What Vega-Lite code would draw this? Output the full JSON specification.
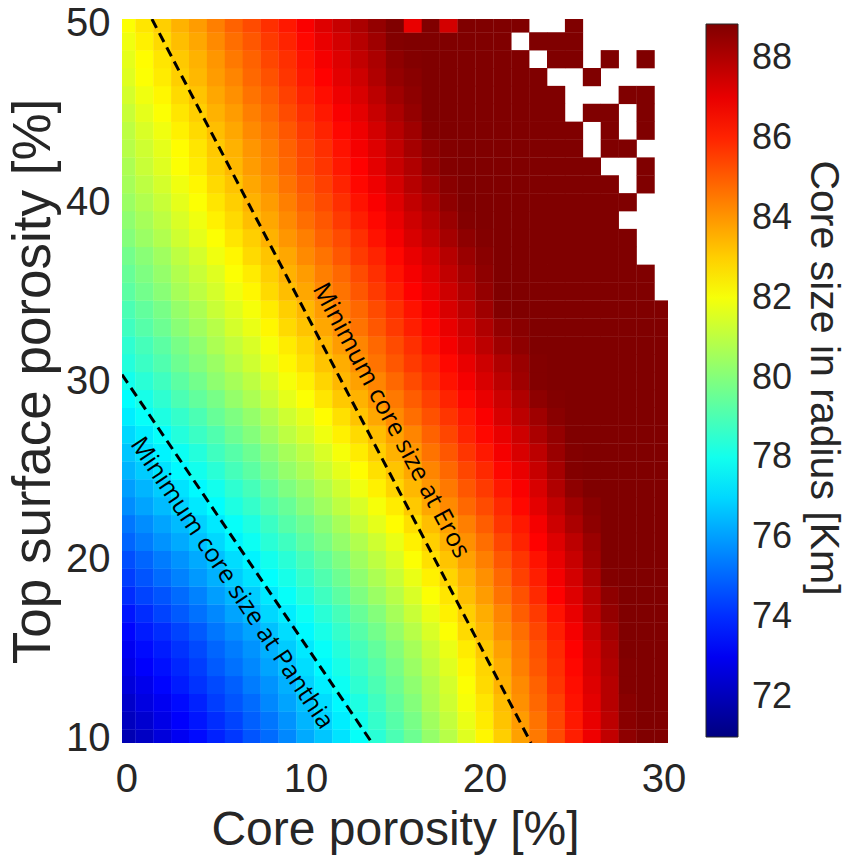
{
"$schema": "https://vega.github.io/schema/vega-lite/v6.json",
"autosize": {"type": "none"},
"width": 546,
"height": 724,
"padding": {"left": 122, "top": 19, "right": 180, "bottom": 116},
"background": "white",
"config": {"view": {"stroke": null}},
"datasets": {
"grid": [
{"x":0,"y":10,"v":71.9},{"x":1,"y":10,"v":72.2},{"x":2,"y":10,"v":72.6},{"x":3,"y":10,"v":73},{"x":4,"y":10,"v":73.4},{"x":5,"y":10,"v":73.8},{"x":6,"y":10,"v":74.2},{"x":7,"y":10,"v":74.7},{"x":8,"y":10,"v":75.1},{"x":9,"y":10,"v":75.6},{"x":10,"y":10,"v":76.2},{"x":11,"y":10,"v":76.7},{"x":12,"y":10,"v":77.2},{"x":13,"y":10,"v":77.8},{"x":14,"y":10,"v":78.4},{"x":15,"y":10,"v":79},{"x":16,"y":10,"v":79.6},{"x":17,"y":10,"v":80.3},{"x":18,"y":10,"v":80.9},{"x":19,"y":10,"v":81.6},{"x":20,"y":10,"v":82.3},{"x":21,"y":10,"v":83},{"x":22,"y":10,"v":83.8},{"x":23,"y":10,"v":84.5},{"x":24,"y":10,"v":85.3},{"x":25,"y":10,"v":86.1},{"x":26,"y":10,"v":86.9},{"x":27,"y":10,"v":87.7},{"x":28,"y":10,"v":88.6},{"x":29,"y":10,"v":89},{"x":30,"y":10,"v":89},
{"x":0,"y":11,"v":72.1},{"x":1,"y":11,"v":72.4},{"x":2,"y":11,"v":72.8},{"x":3,"y":11,"v":73.2},{"x":4,"y":11,"v":73.6},{"x":5,"y":11,"v":74},{"x":6,"y":11,"v":74.4},{"x":7,"y":11,"v":74.9},{"x":8,"y":11,"v":75.3},{"x":9,"y":11,"v":75.8},{"x":10,"y":11,"v":76.4},{"x":11,"y":11,"v":76.9},{"x":12,"y":11,"v":77.4},{"x":13,"y":11,"v":78},{"x":14,"y":11,"v":78.6},{"x":15,"y":11,"v":79.2},{"x":16,"y":11,"v":79.8},{"x":17,"y":11,"v":80.5},{"x":18,"y":11,"v":81.1},{"x":19,"y":11,"v":81.8},{"x":20,"y":11,"v":82.5},{"x":21,"y":11,"v":83.2},{"x":22,"y":11,"v":83.9},{"x":23,"y":11,"v":84.6},{"x":24,"y":11,"v":85.4},{"x":25,"y":11,"v":86.2},{"x":26,"y":11,"v":87},{"x":27,"y":11,"v":87.8},{"x":28,"y":11,"v":88.7},{"x":29,"y":11,"v":89},{"x":30,"y":11,"v":89},
{"x":0,"y":12,"v":72.3},{"x":1,"y":12,"v":72.7},{"x":2,"y":12,"v":73},{"x":3,"y":12,"v":73.4},{"x":4,"y":12,"v":73.8},{"x":5,"y":12,"v":74.3},{"x":6,"y":12,"v":74.7},{"x":7,"y":12,"v":75.1},{"x":8,"y":12,"v":75.6},{"x":9,"y":12,"v":76.1},{"x":10,"y":12,"v":76.6},{"x":11,"y":12,"v":77.1},{"x":12,"y":12,"v":77.6},{"x":13,"y":12,"v":78.2},{"x":14,"y":12,"v":78.8},{"x":15,"y":12,"v":79.4},{"x":16,"y":12,"v":80},{"x":17,"y":12,"v":80.7},{"x":18,"y":12,"v":81.3},{"x":19,"y":12,"v":82},{"x":20,"y":12,"v":82.6},{"x":21,"y":12,"v":83.3},{"x":22,"y":12,"v":84.1},{"x":23,"y":12,"v":84.8},{"x":24,"y":12,"v":85.5},{"x":25,"y":12,"v":86.3},{"x":26,"y":12,"v":87.1},{"x":27,"y":12,"v":87.9},{"x":28,"y":12,"v":88.7},{"x":29,"y":12,"v":89},{"x":30,"y":12,"v":89},
{"x":0,"y":13,"v":72.6},{"x":1,"y":13,"v":72.9},{"x":2,"y":13,"v":73.3},{"x":3,"y":13,"v":73.7},{"x":4,"y":13,"v":74.1},{"x":5,"y":13,"v":74.5},{"x":6,"y":13,"v":74.9},{"x":7,"y":13,"v":75.4},{"x":8,"y":13,"v":75.8},{"x":9,"y":13,"v":76.3},{"x":10,"y":13,"v":76.9},{"x":11,"y":13,"v":77.4},{"x":12,"y":13,"v":77.9},{"x":13,"y":13,"v":78.5},{"x":14,"y":13,"v":79},{"x":15,"y":13,"v":79.6},{"x":16,"y":13,"v":80.2},{"x":17,"y":13,"v":80.8},{"x":18,"y":13,"v":81.4},{"x":19,"y":13,"v":82.1},{"x":20,"y":13,"v":82.8},{"x":21,"y":13,"v":83.5},{"x":22,"y":13,"v":84.2},{"x":23,"y":13,"v":84.9},{"x":24,"y":13,"v":85.7},{"x":25,"y":13,"v":86.4},{"x":26,"y":13,"v":87.2},{"x":27,"y":13,"v":87.9},{"x":28,"y":13,"v":88.8},{"x":29,"y":13,"v":89},{"x":30,"y":13,"v":89},
{"x":0,"y":14,"v":72.8},{"x":1,"y":14,"v":73.2},{"x":2,"y":14,"v":73.5},{"x":3,"y":14,"v":73.9},{"x":4,"y":14,"v":74.3},{"x":5,"y":14,"v":74.8},{"x":6,"y":14,"v":75.2},{"x":7,"y":14,"v":75.6},{"x":8,"y":14,"v":76.1},{"x":9,"y":14,"v":76.6},{"x":10,"y":14,"v":77.1},{"x":11,"y":14,"v":77.6},{"x":12,"y":14,"v":78.1},{"x":13,"y":14,"v":78.7},{"x":14,"y":14,"v":79.2},{"x":15,"y":14,"v":79.8},{"x":16,"y":14,"v":80.4},{"x":17,"y":14,"v":81},{"x":18,"y":14,"v":81.6},{"x":19,"y":14,"v":82.3},{"x":20,"y":14,"v":82.9},{"x":21,"y":14,"v":83.6},{"x":22,"y":14,"v":84.4},{"x":23,"y":14,"v":85.1},{"x":24,"y":14,"v":85.8},{"x":25,"y":14,"v":86.5},{"x":26,"y":14,"v":87.3},{"x":27,"y":14,"v":88},{"x":28,"y":14,"v":88.8},{"x":29,"y":14,"v":89},{"x":30,"y":14,"v":89},
{"x":0,"y":15,"v":73},{"x":1,"y":15,"v":73.4},{"x":2,"y":15,"v":73.7},{"x":3,"y":15,"v":74.1},{"x":4,"y":15,"v":74.5},{"x":5,"y":15,"v":75},{"x":6,"y":15,"v":75.4},{"x":7,"y":15,"v":75.8},{"x":8,"y":15,"v":76.3},{"x":9,"y":15,"v":76.8},{"x":10,"y":15,"v":77.3},{"x":11,"y":15,"v":77.8},{"x":12,"y":15,"v":78.3},{"x":13,"y":15,"v":78.9},{"x":14,"y":15,"v":79.4},{"x":15,"y":15,"v":80},{"x":16,"y":15,"v":80.6},{"x":17,"y":15,"v":81.2},{"x":18,"y":15,"v":81.8},{"x":19,"y":15,"v":82.5},{"x":20,"y":15,"v":83.1},{"x":21,"y":15,"v":83.8},{"x":22,"y":15,"v":84.5},{"x":23,"y":15,"v":85.2},{"x":24,"y":15,"v":85.9},{"x":25,"y":15,"v":86.6},{"x":26,"y":15,"v":87.4},{"x":27,"y":15,"v":88.1},{"x":28,"y":15,"v":88.9},{"x":29,"y":15,"v":89},{"x":30,"y":15,"v":89},
{"x":0,"y":16,"v":73.3},{"x":1,"y":16,"v":73.7},{"x":2,"y":16,"v":74},{"x":3,"y":16,"v":74.4},{"x":4,"y":16,"v":74.8},{"x":5,"y":16,"v":75.3},{"x":6,"y":16,"v":75.7},{"x":7,"y":16,"v":76.1},{"x":8,"y":16,"v":76.6},{"x":9,"y":16,"v":77.1},{"x":10,"y":16,"v":77.6},{"x":11,"y":16,"v":78.1},{"x":12,"y":16,"v":78.6},{"x":13,"y":16,"v":79.2},{"x":14,"y":16,"v":79.7},{"x":15,"y":16,"v":80.3},{"x":16,"y":16,"v":80.9},{"x":17,"y":16,"v":81.5},{"x":18,"y":16,"v":82.1},{"x":19,"y":16,"v":82.8},{"x":20,"y":16,"v":83.4},{"x":21,"y":16,"v":84.1},{"x":22,"y":16,"v":84.7},{"x":23,"y":16,"v":85.4},{"x":24,"y":16,"v":86.1},{"x":25,"y":16,"v":86.8},{"x":26,"y":16,"v":87.6},{"x":27,"y":16,"v":88.3},{"x":28,"y":16,"v":88.9},{"x":29,"y":16,"v":89},{"x":30,"y":16,"v":89},
{"x":0,"y":17,"v":73.6},{"x":1,"y":17,"v":74},{"x":2,"y":17,"v":74.4},{"x":3,"y":17,"v":74.8},{"x":4,"y":17,"v":75.2},{"x":5,"y":17,"v":75.6},{"x":6,"y":17,"v":76.1},{"x":7,"y":17,"v":76.5},{"x":8,"y":17,"v":77},{"x":9,"y":17,"v":77.4},{"x":10,"y":17,"v":77.9},{"x":11,"y":17,"v":78.4},{"x":12,"y":17,"v":78.9},{"x":13,"y":17,"v":79.5},{"x":14,"y":17,"v":80},{"x":15,"y":17,"v":80.6},{"x":16,"y":17,"v":81.2},{"x":17,"y":17,"v":81.8},{"x":18,"y":17,"v":82.4},{"x":19,"y":17,"v":83},{"x":20,"y":17,"v":83.6},{"x":21,"y":17,"v":84.3},{"x":22,"y":17,"v":85},{"x":23,"y":17,"v":85.6},{"x":24,"y":17,"v":86.3},{"x":25,"y":17,"v":87},{"x":26,"y":17,"v":87.8},{"x":27,"y":17,"v":88.5},{"x":28,"y":17,"v":88.9},{"x":29,"y":17,"v":89},{"x":30,"y":17,"v":89},
{"x":0,"y":18,"v":74},{"x":1,"y":18,"v":74.4},{"x":2,"y":18,"v":74.7},{"x":3,"y":18,"v":75.1},{"x":4,"y":18,"v":75.5},{"x":5,"y":18,"v":76},{"x":6,"y":18,"v":76.4},{"x":7,"y":18,"v":76.8},{"x":8,"y":18,"v":77.3},{"x":9,"y":18,"v":77.8},{"x":10,"y":18,"v":78.3},{"x":11,"y":18,"v":78.8},{"x":12,"y":18,"v":79.3},{"x":13,"y":18,"v":79.9},{"x":14,"y":18,"v":80.4},{"x":15,"y":18,"v":80.9},{"x":16,"y":18,"v":81.5},{"x":17,"y":18,"v":82.1},{"x":18,"y":18,"v":82.6},{"x":19,"y":18,"v":83.3},{"x":20,"y":18,"v":83.9},{"x":21,"y":18,"v":84.6},{"x":22,"y":18,"v":85.2},{"x":23,"y":18,"v":85.9},{"x":24,"y":18,"v":86.6},{"x":25,"y":18,"v":87.2},{"x":26,"y":18,"v":87.9},{"x":27,"y":18,"v":88.6},{"x":28,"y":18,"v":89},{"x":29,"y":18,"v":89},{"x":30,"y":18,"v":89},
{"x":0,"y":19,"v":74.3},{"x":1,"y":19,"v":74.7},{"x":2,"y":19,"v":75.1},{"x":3,"y":19,"v":75.5},{"x":4,"y":19,"v":75.9},{"x":5,"y":19,"v":76.3},{"x":6,"y":19,"v":76.8},{"x":7,"y":19,"v":77.2},{"x":8,"y":19,"v":77.7},{"x":9,"y":19,"v":78.1},{"x":10,"y":19,"v":78.6},{"x":11,"y":19,"v":79.1},{"x":12,"y":19,"v":79.6},{"x":13,"y":19,"v":80.2},{"x":14,"y":19,"v":80.7},{"x":15,"y":19,"v":81.2},{"x":16,"y":19,"v":81.8},{"x":17,"y":19,"v":82.4},{"x":18,"y":19,"v":82.9},{"x":19,"y":19,"v":83.5},{"x":20,"y":19,"v":84.1},{"x":21,"y":19,"v":84.8},{"x":22,"y":19,"v":85.5},{"x":23,"y":19,"v":86.1},{"x":24,"y":19,"v":86.8},{"x":25,"y":19,"v":87.4},{"x":26,"y":19,"v":88.1},{"x":27,"y":19,"v":88.8},{"x":28,"y":19,"v":89},{"x":29,"y":19,"v":89},{"x":30,"y":19,"v":89},
{"x":0,"y":20,"v":74.6},{"x":1,"y":20,"v":75},{"x":2,"y":20,"v":75.4},{"x":3,"y":20,"v":75.8},{"x":4,"y":20,"v":76.2},{"x":5,"y":20,"v":76.6},{"x":6,"y":20,"v":77.1},{"x":7,"y":20,"v":77.5},{"x":8,"y":20,"v":78},{"x":9,"y":20,"v":78.4},{"x":10,"y":20,"v":78.9},{"x":11,"y":20,"v":79.4},{"x":12,"y":20,"v":79.9},{"x":13,"y":20,"v":80.5},{"x":14,"y":20,"v":81},{"x":15,"y":20,"v":81.5},{"x":16,"y":20,"v":82.1},{"x":17,"y":20,"v":82.7},{"x":18,"y":20,"v":83.2},{"x":19,"y":20,"v":83.8},{"x":20,"y":20,"v":84.4},{"x":21,"y":20,"v":85.1},{"x":22,"y":20,"v":85.7},{"x":23,"y":20,"v":86.3},{"x":24,"y":20,"v":87},{"x":25,"y":20,"v":87.6},{"x":26,"y":20,"v":88.3},{"x":27,"y":20,"v":89},{"x":28,"y":20,"v":89},{"x":29,"y":20,"v":89},{"x":30,"y":20,"v":89},
{"x":0,"y":21,"v":75},{"x":1,"y":21,"v":75.4},{"x":2,"y":21,"v":75.8},{"x":3,"y":21,"v":76.2},{"x":4,"y":21,"v":76.6},{"x":5,"y":21,"v":77},{"x":6,"y":21,"v":77.5},{"x":7,"y":21,"v":77.9},{"x":8,"y":21,"v":78.4},{"x":9,"y":21,"v":78.8},{"x":10,"y":21,"v":79.3},{"x":11,"y":21,"v":79.8},{"x":12,"y":21,"v":80.3},{"x":13,"y":21,"v":80.8},{"x":14,"y":21,"v":81.3},{"x":15,"y":21,"v":81.8},{"x":16,"y":21,"v":82.4},{"x":17,"y":21,"v":83},{"x":18,"y":21,"v":83.5},{"x":19,"y":21,"v":84.1},{"x":20,"y":21,"v":84.7},{"x":21,"y":21,"v":85.4},{"x":22,"y":21,"v":86},{"x":23,"y":21,"v":86.6},{"x":24,"y":21,"v":87.2},{"x":25,"y":21,"v":87.8},{"x":26,"y":21,"v":88.4},{"x":27,"y":21,"v":89},{"x":28,"y":21,"v":89},{"x":29,"y":21,"v":89},{"x":30,"y":21,"v":89},
{"x":0,"y":22,"v":75.3},{"x":1,"y":22,"v":75.7},{"x":2,"y":22,"v":76.1},{"x":3,"y":22,"v":76.5},{"x":4,"y":22,"v":76.9},{"x":5,"y":22,"v":77.3},{"x":6,"y":22,"v":77.8},{"x":7,"y":22,"v":78.2},{"x":8,"y":22,"v":78.7},{"x":9,"y":22,"v":79.2},{"x":10,"y":22,"v":79.6},{"x":11,"y":22,"v":80.1},{"x":12,"y":22,"v":80.6},{"x":13,"y":22,"v":81.2},{"x":14,"y":22,"v":81.7},{"x":15,"y":22,"v":82.2},{"x":16,"y":22,"v":82.7},{"x":17,"y":22,"v":83.3},{"x":18,"y":22,"v":83.8},{"x":19,"y":22,"v":84.4},{"x":20,"y":22,"v":85},{"x":21,"y":22,"v":85.7},{"x":22,"y":22,"v":86.2},{"x":23,"y":22,"v":86.8},{"x":24,"y":22,"v":87.5},{"x":25,"y":22,"v":88.1},{"x":26,"y":22,"v":88.6},{"x":27,"y":22,"v":89},{"x":28,"y":22,"v":89},{"x":29,"y":22,"v":89},{"x":30,"y":22,"v":89},
{"x":0,"y":23,"v":75.7},{"x":1,"y":23,"v":76.1},{"x":2,"y":23,"v":76.5},{"x":3,"y":23,"v":76.9},{"x":4,"y":23,"v":77.3},{"x":5,"y":23,"v":77.7},{"x":6,"y":23,"v":78.2},{"x":7,"y":23,"v":78.6},{"x":8,"y":23,"v":79.1},{"x":9,"y":23,"v":79.5},{"x":10,"y":23,"v":80},{"x":11,"y":23,"v":80.5},{"x":12,"y":23,"v":81},{"x":13,"y":23,"v":81.5},{"x":14,"y":23,"v":82},{"x":15,"y":23,"v":82.5},{"x":16,"y":23,"v":83.1},{"x":17,"y":23,"v":83.7},{"x":18,"y":23,"v":84.2},{"x":19,"y":23,"v":84.8},{"x":20,"y":23,"v":85.3},{"x":21,"y":23,"v":85.9},{"x":22,"y":23,"v":86.5},{"x":23,"y":23,"v":87.1},{"x":24,"y":23,"v":87.7},{"x":25,"y":23,"v":88.3},{"x":26,"y":23,"v":88.7},{"x":27,"y":23,"v":89},{"x":28,"y":23,"v":89},{"x":29,"y":23,"v":89},{"x":30,"y":23,"v":89},
{"x":0,"y":24,"v":76},{"x":1,"y":24,"v":76.4},{"x":2,"y":24,"v":76.8},{"x":3,"y":24,"v":77.2},{"x":4,"y":24,"v":77.6},{"x":5,"y":24,"v":78},{"x":6,"y":24,"v":78.5},{"x":7,"y":24,"v":78.9},{"x":8,"y":24,"v":79.4},{"x":9,"y":24,"v":79.9},{"x":10,"y":24,"v":80.3},{"x":11,"y":24,"v":80.8},{"x":12,"y":24,"v":81.3},{"x":13,"y":24,"v":81.9},{"x":14,"y":24,"v":82.4},{"x":15,"y":24,"v":82.9},{"x":16,"y":24,"v":83.4},{"x":17,"y":24,"v":84},{"x":18,"y":24,"v":84.5},{"x":19,"y":24,"v":85.1},{"x":20,"y":24,"v":85.6},{"x":21,"y":24,"v":86.2},{"x":22,"y":24,"v":86.7},{"x":23,"y":24,"v":87.3},{"x":24,"y":24,"v":88},{"x":25,"y":24,"v":88.6},{"x":26,"y":24,"v":88.9},{"x":27,"y":24,"v":89},{"x":28,"y":24,"v":89},{"x":29,"y":24,"v":89},{"x":30,"y":24,"v":89},
{"x":0,"y":25,"v":76.4},{"x":1,"y":25,"v":76.8},{"x":2,"y":25,"v":77.2},{"x":3,"y":25,"v":77.6},{"x":4,"y":25,"v":78},{"x":5,"y":25,"v":78.4},{"x":6,"y":25,"v":78.9},{"x":7,"y":25,"v":79.3},{"x":8,"y":25,"v":79.8},{"x":9,"y":25,"v":80.3},{"x":10,"y":25,"v":80.7},{"x":11,"y":25,"v":81.2},{"x":12,"y":25,"v":81.7},{"x":13,"y":25,"v":82.2},{"x":14,"y":25,"v":82.7},{"x":15,"y":25,"v":83.2},{"x":16,"y":25,"v":83.7},{"x":17,"y":25,"v":84.3},{"x":18,"y":25,"v":84.8},{"x":19,"y":25,"v":85.4},{"x":20,"y":25,"v":85.9},{"x":21,"y":25,"v":86.5},{"x":22,"y":25,"v":87},{"x":23,"y":25,"v":87.6},{"x":24,"y":25,"v":88.2},{"x":25,"y":25,"v":88.8},{"x":26,"y":25,"v":89},{"x":27,"y":25,"v":89},{"x":28,"y":25,"v":89},{"x":29,"y":25,"v":89},{"x":30,"y":25,"v":89},
{"x":0,"y":26,"v":76.7},{"x":1,"y":26,"v":77.1},{"x":2,"y":26,"v":77.5},{"x":3,"y":26,"v":77.9},{"x":4,"y":26,"v":78.3},{"x":5,"y":26,"v":78.8},{"x":6,"y":26,"v":79.2},{"x":7,"y":26,"v":79.6},{"x":8,"y":26,"v":80.1},{"x":9,"y":26,"v":80.6},{"x":10,"y":26,"v":81},{"x":11,"y":26,"v":81.5},{"x":12,"y":26,"v":82},{"x":13,"y":26,"v":82.5},{"x":14,"y":26,"v":83},{"x":15,"y":26,"v":83.5},{"x":16,"y":26,"v":84},{"x":17,"y":26,"v":84.6},{"x":18,"y":26,"v":85.1},{"x":19,"y":26,"v":85.7},{"x":20,"y":26,"v":86.2},{"x":21,"y":26,"v":86.8},{"x":22,"y":26,"v":87.3},{"x":23,"y":26,"v":87.8},{"x":24,"y":26,"v":88.4},{"x":25,"y":26,"v":88.8},{"x":26,"y":26,"v":89},{"x":27,"y":26,"v":89},{"x":28,"y":26,"v":89},{"x":29,"y":26,"v":89},{"x":30,"y":26,"v":89},
{"x":0,"y":27,"v":77},{"x":1,"y":27,"v":77.4},{"x":2,"y":27,"v":77.8},{"x":3,"y":27,"v":78.3},{"x":4,"y":27,"v":78.7},{"x":5,"y":27,"v":79.1},{"x":6,"y":27,"v":79.6},{"x":7,"y":27,"v":80},{"x":8,"y":27,"v":80.5},{"x":9,"y":27,"v":81},{"x":10,"y":27,"v":81.4},{"x":11,"y":27,"v":81.9},{"x":12,"y":27,"v":82.4},{"x":13,"y":27,"v":82.8},{"x":14,"y":27,"v":83.3},{"x":15,"y":27,"v":83.8},{"x":16,"y":27,"v":84.3},{"x":17,"y":27,"v":84.9},{"x":18,"y":27,"v":85.4},{"x":19,"y":27,"v":86},{"x":20,"y":27,"v":86.5},{"x":21,"y":27,"v":87},{"x":22,"y":27,"v":87.5},{"x":23,"y":27,"v":88.1},{"x":24,"y":27,"v":88.5},{"x":25,"y":27,"v":88.9},{"x":26,"y":27,"v":89},{"x":27,"y":27,"v":89},{"x":28,"y":27,"v":89},{"x":29,"y":27,"v":89},{"x":30,"y":27,"v":89},
{"x":0,"y":28,"v":77.4},{"x":1,"y":28,"v":77.8},{"x":2,"y":28,"v":78.2},{"x":3,"y":28,"v":78.6},{"x":4,"y":28,"v":79},{"x":5,"y":28,"v":79.5},{"x":6,"y":28,"v":79.9},{"x":7,"y":28,"v":80.3},{"x":8,"y":28,"v":80.8},{"x":9,"y":28,"v":81.3},{"x":10,"y":28,"v":81.7},{"x":11,"y":28,"v":82.2},{"x":12,"y":28,"v":82.7},{"x":13,"y":28,"v":83.2},{"x":14,"y":28,"v":83.7},{"x":15,"y":28,"v":84.2},{"x":16,"y":28,"v":84.7},{"x":17,"y":28,"v":85.2},{"x":18,"y":28,"v":85.7},{"x":19,"y":28,"v":86.2},{"x":20,"y":28,"v":86.7},{"x":21,"y":28,"v":87.3},{"x":22,"y":28,"v":87.8},{"x":23,"y":28,"v":88.3},{"x":24,"y":28,"v":88.7},{"x":25,"y":28,"v":89},{"x":26,"y":28,"v":89},{"x":27,"y":28,"v":89},{"x":28,"y":28,"v":89},{"x":29,"y":28,"v":89},{"x":30,"y":28,"v":89},
{"x":0,"y":29,"v":77.7},{"x":1,"y":29,"v":78.1},{"x":2,"y":29,"v":78.5},{"x":3,"y":29,"v":79},{"x":4,"y":29,"v":79.4},{"x":5,"y":29,"v":79.8},{"x":6,"y":29,"v":80.3},{"x":7,"y":29,"v":80.7},{"x":8,"y":29,"v":81.2},{"x":9,"y":29,"v":81.7},{"x":10,"y":29,"v":82.1},{"x":11,"y":29,"v":82.6},{"x":12,"y":29,"v":83.1},{"x":13,"y":29,"v":83.5},{"x":14,"y":29,"v":84},{"x":15,"y":29,"v":84.5},{"x":16,"y":29,"v":85},{"x":17,"y":29,"v":85.5},{"x":18,"y":29,"v":86},{"x":19,"y":29,"v":86.5},{"x":20,"y":29,"v":87},{"x":21,"y":29,"v":87.5},{"x":22,"y":29,"v":88},{"x":23,"y":29,"v":88.6},{"x":24,"y":29,"v":88.8},{"x":25,"y":29,"v":89},{"x":26,"y":29,"v":89},{"x":27,"y":29,"v":89},{"x":28,"y":29,"v":89},{"x":29,"y":29,"v":89},{"x":30,"y":29,"v":89},
{"x":0,"y":30,"v":78},{"x":1,"y":30,"v":78.4},{"x":2,"y":30,"v":78.8},{"x":3,"y":30,"v":79.3},{"x":4,"y":30,"v":79.7},{"x":5,"y":30,"v":80.2},{"x":6,"y":30,"v":80.6},{"x":7,"y":30,"v":81},{"x":8,"y":30,"v":81.5},{"x":9,"y":30,"v":82},{"x":10,"y":30,"v":82.4},{"x":11,"y":30,"v":82.9},{"x":12,"y":30,"v":83.4},{"x":13,"y":30,"v":83.8},{"x":14,"y":30,"v":84.3},{"x":15,"y":30,"v":84.8},{"x":16,"y":30,"v":85.3},{"x":17,"y":30,"v":85.8},{"x":18,"y":30,"v":86.3},{"x":19,"y":30,"v":86.8},{"x":20,"y":30,"v":87.3},{"x":21,"y":30,"v":87.8},{"x":22,"y":30,"v":88.3},{"x":23,"y":30,"v":88.8},{"x":24,"y":30,"v":89},{"x":25,"y":30,"v":89},{"x":26,"y":30,"v":89},{"x":27,"y":30,"v":89},{"x":28,"y":30,"v":89},{"x":29,"y":30,"v":89},{"x":30,"y":30,"v":89},
{"x":0,"y":31,"v":78.3},{"x":1,"y":31,"v":78.7},{"x":2,"y":31,"v":79.1},{"x":3,"y":31,"v":79.6},{"x":4,"y":31,"v":80},{"x":5,"y":31,"v":80.4},{"x":6,"y":31,"v":80.9},{"x":7,"y":31,"v":81.3},{"x":8,"y":31,"v":81.8},{"x":9,"y":31,"v":82.3},{"x":10,"y":31,"v":82.7},{"x":11,"y":31,"v":83.2},{"x":12,"y":31,"v":83.6},{"x":13,"y":31,"v":84.1},{"x":14,"y":31,"v":84.6},{"x":15,"y":31,"v":85.1},{"x":16,"y":31,"v":85.6},{"x":17,"y":31,"v":86},{"x":18,"y":31,"v":86.5},{"x":19,"y":31,"v":87},{"x":20,"y":31,"v":87.5},{"x":21,"y":31,"v":88},{"x":22,"y":31,"v":88.4},{"x":23,"y":31,"v":88.8},{"x":24,"y":31,"v":89},{"x":25,"y":31,"v":89},{"x":26,"y":31,"v":89},{"x":27,"y":31,"v":89},{"x":28,"y":31,"v":89},{"x":29,"y":31,"v":89},{"x":30,"y":31,"v":89},
{"x":0,"y":32,"v":78.5},{"x":1,"y":32,"v":78.9},{"x":2,"y":32,"v":79.3},{"x":3,"y":32,"v":79.8},{"x":4,"y":32,"v":80.2},{"x":5,"y":32,"v":80.7},{"x":6,"y":32,"v":81.1},{"x":7,"y":32,"v":81.5},{"x":8,"y":32,"v":82},{"x":9,"y":32,"v":82.5},{"x":10,"y":32,"v":82.9},{"x":11,"y":32,"v":83.4},{"x":12,"y":32,"v":83.9},{"x":13,"y":32,"v":84.3},{"x":14,"y":32,"v":84.8},{"x":15,"y":32,"v":85.3},{"x":16,"y":32,"v":85.8},{"x":17,"y":32,"v":86.3},{"x":18,"y":32,"v":86.8},{"x":19,"y":32,"v":87.3},{"x":20,"y":32,"v":87.8},{"x":21,"y":32,"v":88.3},{"x":22,"y":32,"v":88.6},{"x":23,"y":32,"v":88.9},{"x":24,"y":32,"v":89},{"x":25,"y":32,"v":89},{"x":26,"y":32,"v":89},{"x":27,"y":32,"v":89},{"x":28,"y":32,"v":89},{"x":29,"y":32,"v":89},{"x":30,"y":32,"v":89},
{"x":0,"y":33,"v":78.8},{"x":1,"y":33,"v":79.2},{"x":2,"y":33,"v":79.6},{"x":3,"y":33,"v":80.1},{"x":4,"y":33,"v":80.5},{"x":5,"y":33,"v":80.9},{"x":6,"y":33,"v":81.4},{"x":7,"y":33,"v":81.8},{"x":8,"y":33,"v":82.3},{"x":9,"y":33,"v":82.8},{"x":10,"y":33,"v":83.2},{"x":11,"y":33,"v":83.7},{"x":12,"y":33,"v":84.1},{"x":13,"y":33,"v":84.6},{"x":14,"y":33,"v":85.1},{"x":15,"y":33,"v":85.6},{"x":16,"y":33,"v":86.1},{"x":17,"y":33,"v":86.5},{"x":18,"y":33,"v":87},{"x":19,"y":33,"v":87.5},{"x":20,"y":33,"v":88},{"x":21,"y":33,"v":88.5},{"x":22,"y":33,"v":88.7},{"x":23,"y":33,"v":89},{"x":24,"y":33,"v":89},{"x":25,"y":33,"v":89},{"x":26,"y":33,"v":89},{"x":27,"y":33,"v":89},{"x":28,"y":33,"v":89},{"x":29,"y":33,"v":89},{"x":30,"y":33,"v":89},
{"x":0,"y":34,"v":79},{"x":1,"y":34,"v":79.4},{"x":2,"y":34,"v":79.8},{"x":3,"y":34,"v":80.3},{"x":4,"y":34,"v":80.7},{"x":5,"y":34,"v":81.2},{"x":6,"y":34,"v":81.6},{"x":7,"y":34,"v":82},{"x":8,"y":34,"v":82.5},{"x":9,"y":34,"v":83},{"x":10,"y":34,"v":83.4},{"x":11,"y":34,"v":83.9},{"x":12,"y":34,"v":84.4},{"x":13,"y":34,"v":84.8},{"x":14,"y":34,"v":85.3},{"x":15,"y":34,"v":85.8},{"x":16,"y":34,"v":86.3},{"x":17,"y":34,"v":86.8},{"x":18,"y":34,"v":87.3},{"x":19,"y":34,"v":87.8},{"x":20,"y":34,"v":88.3},{"x":21,"y":34,"v":88.8},{"x":22,"y":34,"v":88.9},{"x":23,"y":34,"v":89},{"x":24,"y":34,"v":89},{"x":25,"y":34,"v":89},{"x":26,"y":34,"v":89},{"x":27,"y":34,"v":89},{"x":28,"y":34,"v":89},{"x":29,"y":34,"v":89},{"x":30,"y":34,"v":89},
{"x":0,"y":35,"v":79.3},{"x":1,"y":35,"v":79.7},{"x":2,"y":35,"v":80.1},{"x":3,"y":35,"v":80.6},{"x":4,"y":35,"v":81},{"x":5,"y":35,"v":81.4},{"x":6,"y":35,"v":81.9},{"x":7,"y":35,"v":82.3},{"x":8,"y":35,"v":82.8},{"x":9,"y":35,"v":83.3},{"x":10,"y":35,"v":83.7},{"x":11,"y":35,"v":84.2},{"x":12,"y":35,"v":84.6},{"x":13,"y":35,"v":85.1},{"x":14,"y":35,"v":85.6},{"x":15,"y":35,"v":86.1},{"x":16,"y":35,"v":86.6},{"x":17,"y":35,"v":87},{"x":18,"y":35,"v":87.5},{"x":19,"y":35,"v":88},{"x":20,"y":35,"v":88.5},{"x":21,"y":35,"v":89},{"x":22,"y":35,"v":89},{"x":23,"y":35,"v":89},{"x":24,"y":35,"v":89},{"x":25,"y":35,"v":89},{"x":26,"y":35,"v":89},{"x":27,"y":35,"v":89},{"x":28,"y":35,"v":89},{"x":29,"y":35,"v":89},
{"x":0,"y":36,"v":79.5},{"x":1,"y":36,"v":79.9},{"x":2,"y":36,"v":80.3},{"x":3,"y":36,"v":80.8},{"x":4,"y":36,"v":81.2},{"x":5,"y":36,"v":81.6},{"x":6,"y":36,"v":82.1},{"x":7,"y":36,"v":82.5},{"x":8,"y":36,"v":83},{"x":9,"y":36,"v":83.5},{"x":10,"y":36,"v":83.9},{"x":11,"y":36,"v":84.4},{"x":12,"y":36,"v":84.8},{"x":13,"y":36,"v":85.3},{"x":14,"y":36,"v":85.8},{"x":15,"y":36,"v":86.3},{"x":16,"y":36,"v":86.8},{"x":17,"y":36,"v":87.2},{"x":18,"y":36,"v":87.7},{"x":19,"y":36,"v":88.2},{"x":20,"y":36,"v":88.6},{"x":21,"y":36,"v":89},{"x":22,"y":36,"v":89},{"x":23,"y":36,"v":89},{"x":24,"y":36,"v":89},{"x":25,"y":36,"v":89},{"x":26,"y":36,"v":89},{"x":27,"y":36,"v":89},{"x":28,"y":36,"v":89},{"x":29,"y":36,"v":89},
{"x":0,"y":37,"v":79.7},{"x":1,"y":37,"v":80.1},{"x":2,"y":37,"v":80.5},{"x":3,"y":37,"v":81},{"x":4,"y":37,"v":81.4},{"x":5,"y":37,"v":81.9},{"x":6,"y":37,"v":82.3},{"x":7,"y":37,"v":82.8},{"x":8,"y":37,"v":83.2},{"x":9,"y":37,"v":83.7},{"x":10,"y":37,"v":84.2},{"x":11,"y":37,"v":84.6},{"x":12,"y":37,"v":85.1},{"x":13,"y":37,"v":85.6},{"x":14,"y":37,"v":86},{"x":15,"y":37,"v":86.5},{"x":16,"y":37,"v":87},{"x":17,"y":37,"v":87.4},{"x":18,"y":37,"v":87.9},{"x":19,"y":37,"v":88.4},{"x":20,"y":37,"v":88.7},{"x":21,"y":37,"v":89},{"x":22,"y":37,"v":89},{"x":23,"y":37,"v":89},{"x":24,"y":37,"v":89},{"x":25,"y":37,"v":89},{"x":26,"y":37,"v":89},{"x":27,"y":37,"v":89},{"x":28,"y":37,"v":89},
{"x":0,"y":38,"v":80},{"x":1,"y":38,"v":80.4},{"x":2,"y":38,"v":80.8},{"x":3,"y":38,"v":81.3},{"x":4,"y":38,"v":81.7},{"x":5,"y":38,"v":82.1},{"x":6,"y":38,"v":82.6},{"x":7,"y":38,"v":83},{"x":8,"y":38,"v":83.5},{"x":9,"y":38,"v":84},{"x":10,"y":38,"v":84.4},{"x":11,"y":38,"v":84.9},{"x":12,"y":38,"v":85.3},{"x":13,"y":38,"v":85.8},{"x":14,"y":38,"v":86.3},{"x":15,"y":38,"v":86.8},{"x":16,"y":38,"v":87.3},{"x":17,"y":38,"v":87.7},{"x":18,"y":38,"v":88.2},{"x":19,"y":38,"v":88.6},{"x":20,"y":38,"v":88.8},{"x":21,"y":38,"v":89},{"x":22,"y":38,"v":89},{"x":23,"y":38,"v":89},{"x":24,"y":38,"v":89},{"x":25,"y":38,"v":89},{"x":26,"y":38,"v":89},{"x":27,"y":38,"v":89},{"x":28,"y":38,"v":89},
{"x":0,"y":39,"v":80.2},{"x":1,"y":39,"v":80.6},{"x":2,"y":39,"v":81},{"x":3,"y":39,"v":81.5},{"x":4,"y":39,"v":81.9},{"x":5,"y":39,"v":82.4},{"x":6,"y":39,"v":82.8},{"x":7,"y":39,"v":83.3},{"x":8,"y":39,"v":83.7},{"x":9,"y":39,"v":84.2},{"x":10,"y":39,"v":84.7},{"x":11,"y":39,"v":85.1},{"x":12,"y":39,"v":85.6},{"x":13,"y":39,"v":86.1},{"x":14,"y":39,"v":86.5},{"x":15,"y":39,"v":87},{"x":16,"y":39,"v":87.5},{"x":17,"y":39,"v":87.9},{"x":18,"y":39,"v":88.4},{"x":19,"y":39,"v":88.8},{"x":20,"y":39,"v":88.9},{"x":21,"y":39,"v":89},{"x":22,"y":39,"v":89},{"x":23,"y":39,"v":89},{"x":24,"y":39,"v":89},{"x":25,"y":39,"v":89},{"x":26,"y":39,"v":89},{"x":27,"y":39,"v":89},
{"x":0,"y":40,"v":80.4},{"x":1,"y":40,"v":80.8},{"x":2,"y":40,"v":81.2},{"x":3,"y":40,"v":81.7},{"x":4,"y":40,"v":82.1},{"x":5,"y":40,"v":82.6},{"x":6,"y":40,"v":83},{"x":7,"y":40,"v":83.5},{"x":8,"y":40,"v":83.9},{"x":9,"y":40,"v":84.4},{"x":10,"y":40,"v":84.9},{"x":11,"y":40,"v":85.3},{"x":12,"y":40,"v":85.8},{"x":13,"y":40,"v":86.3},{"x":14,"y":40,"v":86.7},{"x":15,"y":40,"v":87.2},{"x":16,"y":40,"v":87.7},{"x":17,"y":40,"v":88.1},{"x":18,"y":40,"v":88.6},{"x":19,"y":40,"v":89},{"x":20,"y":40,"v":89},{"x":21,"y":40,"v":89},{"x":22,"y":40,"v":89},{"x":23,"y":40,"v":89},{"x":24,"y":40,"v":89},{"x":25,"y":40,"v":89},{"x":26,"y":40,"v":89},{"x":27,"y":40,"v":89},{"x":28,"y":40,"v":89},
{"x":0,"y":41,"v":80.6},{"x":1,"y":41,"v":81},{"x":2,"y":41,"v":81.4},{"x":3,"y":41,"v":81.9},{"x":4,"y":41,"v":82.3},{"x":5,"y":41,"v":82.8},{"x":6,"y":41,"v":83.2},{"x":7,"y":41,"v":83.7},{"x":8,"y":41,"v":84.1},{"x":9,"y":41,"v":84.6},{"x":10,"y":41,"v":85.1},{"x":11,"y":41,"v":85.5},{"x":12,"y":41,"v":86},{"x":13,"y":41,"v":86.5},{"x":14,"y":41,"v":86.9},{"x":15,"y":41,"v":87.4},{"x":16,"y":41,"v":87.9},{"x":17,"y":41,"v":88.3},{"x":18,"y":41,"v":88.7},{"x":19,"y":41,"v":89},{"x":20,"y":41,"v":89},{"x":21,"y":41,"v":89},{"x":22,"y":41,"v":89},{"x":23,"y":41,"v":89},{"x":24,"y":41,"v":89},{"x":25,"y":41,"v":89},{"x":26,"y":41,"v":89},{"x":27,"y":41,"v":89},{"x":29,"y":41,"v":89},
{"x":0,"y":42,"v":80.7},{"x":1,"y":42,"v":81.2},{"x":2,"y":42,"v":81.6},{"x":3,"y":42,"v":82.1},{"x":4,"y":42,"v":82.5},{"x":5,"y":42,"v":83},{"x":6,"y":42,"v":83.4},{"x":7,"y":42,"v":83.9},{"x":8,"y":42,"v":84.3},{"x":9,"y":42,"v":84.8},{"x":10,"y":42,"v":85.3},{"x":11,"y":42,"v":85.7},{"x":12,"y":42,"v":86.2},{"x":13,"y":42,"v":86.6},{"x":14,"y":42,"v":87.1},{"x":15,"y":42,"v":87.6},{"x":16,"y":42,"v":88},{"x":17,"y":42,"v":88.5},{"x":18,"y":42,"v":88.8},{"x":19,"y":42,"v":89},{"x":20,"y":42,"v":89},{"x":21,"y":42,"v":89},{"x":22,"y":42,"v":89},{"x":23,"y":42,"v":89},{"x":24,"y":42,"v":89},{"x":25,"y":42,"v":89},{"x":26,"y":42,"v":89},{"x":29,"y":42,"v":89},
{"x":0,"y":43,"v":80.9},{"x":1,"y":43,"v":81.3},{"x":2,"y":43,"v":81.7},{"x":3,"y":43,"v":82.2},{"x":4,"y":43,"v":82.6},{"x":5,"y":43,"v":83.1},{"x":6,"y":43,"v":83.5},{"x":7,"y":43,"v":84},{"x":8,"y":43,"v":84.4},{"x":9,"y":43,"v":84.9},{"x":10,"y":43,"v":85.4},{"x":11,"y":43,"v":85.8},{"x":12,"y":43,"v":86.3},{"x":13,"y":43,"v":86.8},{"x":14,"y":43,"v":87.2},{"x":15,"y":43,"v":87.7},{"x":16,"y":43,"v":88.2},{"x":17,"y":43,"v":88.6},{"x":18,"y":43,"v":88.8},{"x":19,"y":43,"v":89},{"x":20,"y":43,"v":89},{"x":21,"y":43,"v":89},{"x":22,"y":43,"v":89},{"x":23,"y":43,"v":89},{"x":24,"y":43,"v":89},{"x":25,"y":43,"v":89},{"x":27,"y":43,"v":89},{"x":28,"y":43,"v":89},
{"x":0,"y":44,"v":81},{"x":1,"y":44,"v":81.5},{"x":2,"y":44,"v":81.9},{"x":3,"y":44,"v":82.4},{"x":4,"y":44,"v":82.8},{"x":5,"y":44,"v":83.3},{"x":6,"y":44,"v":83.7},{"x":7,"y":44,"v":84.2},{"x":8,"y":44,"v":84.6},{"x":9,"y":44,"v":85.1},{"x":10,"y":44,"v":85.6},{"x":11,"y":44,"v":86},{"x":12,"y":44,"v":86.5},{"x":13,"y":44,"v":86.9},{"x":14,"y":44,"v":87.4},{"x":15,"y":44,"v":87.9},{"x":16,"y":44,"v":88.3},{"x":17,"y":44,"v":88.8},{"x":18,"y":44,"v":88.9},{"x":19,"y":44,"v":89},{"x":20,"y":44,"v":89},{"x":21,"y":44,"v":89},{"x":22,"y":44,"v":89},{"x":23,"y":44,"v":89},{"x":24,"y":44,"v":89},{"x":25,"y":44,"v":89},{"x":27,"y":44,"v":89},{"x":29,"y":44,"v":89},
{"x":0,"y":45,"v":81.2},{"x":1,"y":45,"v":81.7},{"x":2,"y":45,"v":82.1},{"x":3,"y":45,"v":82.6},{"x":4,"y":45,"v":83},{"x":5,"y":45,"v":83.5},{"x":6,"y":45,"v":83.9},{"x":7,"y":45,"v":84.4},{"x":8,"y":45,"v":84.8},{"x":9,"y":45,"v":85.3},{"x":10,"y":45,"v":85.8},{"x":11,"y":45,"v":86.2},{"x":12,"y":45,"v":86.7},{"x":13,"y":45,"v":87.1},{"x":14,"y":45,"v":87.6},{"x":15,"y":45,"v":88.1},{"x":16,"y":45,"v":88.5},{"x":17,"y":45,"v":89},{"x":18,"y":45,"v":89},{"x":19,"y":45,"v":89},{"x":20,"y":45,"v":89},{"x":21,"y":45,"v":89},{"x":22,"y":45,"v":89},{"x":23,"y":45,"v":89},{"x":24,"y":45,"v":89},{"x":26,"y":45,"v":89},{"x":27,"y":45,"v":89},{"x":29,"y":45,"v":89},
{"x":0,"y":46,"v":81.4},{"x":1,"y":46,"v":81.9},{"x":2,"y":46,"v":82.3},{"x":3,"y":46,"v":82.8},{"x":4,"y":46,"v":83.2},{"x":5,"y":46,"v":83.7},{"x":6,"y":46,"v":84.1},{"x":7,"y":46,"v":84.6},{"x":8,"y":46,"v":85},{"x":9,"y":46,"v":85.5},{"x":10,"y":46,"v":86},{"x":11,"y":46,"v":86.4},{"x":12,"y":46,"v":86.9},{"x":13,"y":46,"v":87.3},{"x":14,"y":46,"v":87.8},{"x":15,"y":46,"v":88.3},{"x":16,"y":46,"v":88.6},{"x":17,"y":46,"v":89},{"x":18,"y":46,"v":89},{"x":19,"y":46,"v":89},{"x":20,"y":46,"v":89},{"x":21,"y":46,"v":89},{"x":22,"y":46,"v":89},{"x":23,"y":46,"v":89},{"x":24,"y":46,"v":89},{"x":28,"y":46,"v":89},{"x":29,"y":46,"v":89},
{"x":0,"y":47,"v":81.6},{"x":1,"y":47,"v":82.1},{"x":2,"y":47,"v":82.5},{"x":3,"y":47,"v":83},{"x":4,"y":47,"v":83.4},{"x":5,"y":47,"v":83.9},{"x":6,"y":47,"v":84.3},{"x":7,"y":47,"v":84.8},{"x":8,"y":47,"v":85.2},{"x":9,"y":47,"v":85.7},{"x":10,"y":47,"v":86.2},{"x":11,"y":47,"v":86.6},{"x":12,"y":47,"v":87.1},{"x":13,"y":47,"v":87.5},{"x":14,"y":47,"v":88},{"x":15,"y":47,"v":88.5},{"x":16,"y":47,"v":88.7},{"x":17,"y":47,"v":89},{"x":18,"y":47,"v":89},{"x":19,"y":47,"v":89},{"x":20,"y":47,"v":89},{"x":21,"y":47,"v":89},{"x":22,"y":47,"v":89},{"x":23,"y":47,"v":89},{"x":26,"y":47,"v":89},
{"x":0,"y":48,"v":81.7},{"x":1,"y":48,"v":82.2},{"x":2,"y":48,"v":82.6},{"x":3,"y":48,"v":83.1},{"x":4,"y":48,"v":83.5},{"x":5,"y":48,"v":84},{"x":6,"y":48,"v":84.5},{"x":7,"y":48,"v":84.9},{"x":8,"y":48,"v":85.4},{"x":9,"y":48,"v":85.8},{"x":10,"y":48,"v":86.3},{"x":11,"y":48,"v":86.8},{"x":12,"y":48,"v":87.2},{"x":13,"y":48,"v":87.7},{"x":14,"y":48,"v":88.1},{"x":15,"y":48,"v":88.6},{"x":16,"y":48,"v":88.8},{"x":17,"y":48,"v":89},{"x":18,"y":48,"v":89},{"x":19,"y":48,"v":89},{"x":20,"y":48,"v":89},{"x":21,"y":48,"v":89},{"x":22,"y":48,"v":89},{"x":24,"y":48,"v":89},{"x":25,"y":48,"v":89},{"x":27,"y":48,"v":89},{"x":29,"y":48,"v":89},
{"x":0,"y":49,"v":81.9},{"x":1,"y":49,"v":82.4},{"x":2,"y":49,"v":82.8},{"x":3,"y":49,"v":83.3},{"x":4,"y":49,"v":83.7},{"x":5,"y":49,"v":84.2},{"x":6,"y":49,"v":84.7},{"x":7,"y":49,"v":85.1},{"x":8,"y":49,"v":85.6},{"x":9,"y":49,"v":86},{"x":10,"y":49,"v":86.5},{"x":11,"y":49,"v":87},{"x":12,"y":49,"v":87.4},{"x":13,"y":49,"v":87.9},{"x":14,"y":49,"v":88.3},{"x":15,"y":49,"v":88.8},{"x":16,"y":49,"v":88.9},{"x":17,"y":49,"v":89},{"x":18,"y":49,"v":89},{"x":19,"y":49,"v":89},{"x":20,"y":49,"v":89},{"x":21,"y":49,"v":89},{"x":23,"y":49,"v":89},{"x":24,"y":49,"v":89},{"x":25,"y":49,"v":89},
{"x":0,"y":50,"v":82.1},{"x":1,"y":50,"v":82.6},{"x":2,"y":50,"v":83},{"x":3,"y":50,"v":83.5},{"x":4,"y":50,"v":83.9},{"x":5,"y":50,"v":84.4},{"x":6,"y":50,"v":84.9},{"x":7,"y":50,"v":85.3},{"x":8,"y":50,"v":85.8},{"x":9,"y":50,"v":86.2},{"x":10,"y":50,"v":86.7},{"x":11,"y":50,"v":87.2},{"x":12,"y":50,"v":87.6},{"x":13,"y":50,"v":88.1},{"x":14,"y":50,"v":88.5},{"x":15,"y":50,"v":89},{"x":16,"y":50,"v":87},{"x":17,"y":50,"v":89},{"x":18,"y":50,"v":87.4},{"x":19,"y":50,"v":89},{"x":20,"y":50,"v":89},{"x":21,"y":50,"v":89},{"x":22,"y":50,"v":89},{"x":25,"y":50,"v":89}
],
"lines": [
{"name":"Eros","x":1.42,"y":50.25},{"name":"Eros","x":22.6,"y":9.75},
{"name":"Panthia","x":-0.25,"y":30.36},{"name":"Panthia","x":13.72,"y":9.75}
],
"erosLabel": [{"x":14.8,"y":27.8,"label":"Minimum core size at Eros"}],
"panthiaLabel": [{"x":5.9,"y":18.7,"label":"Minimum core size at Panthia"}]
},
"encoding": {
"x": {"field":"x","type":"quantitative","scale":{"domain":[-0.25,30.25],"nice":false,"zero":false},
 "axis":{"title":"Core porosity [%]","values":[0,10,20,30],"domain":false,"ticks":false,"grid":false,"labelFlush":false,
 "labelFont":"Liberation Sans","labelFontSize":40,"labelColor":"#262626","labelPadding":16,
 "titleFont":"Liberation Sans","titleFontSize":48,"titleFontWeight":"normal","titleColor":"#262626","titlePadding":7}},
"y": {"field":"y","type":"quantitative","scale":{"domain":[9.75,50.25],"nice":false,"zero":false},
 "axis":{"title":"Top surface porosity [%]","values":[10,20,30,40,50],"domain":false,"ticks":false,"grid":false,"labelFlush":false,
 "labelFont":"Liberation Sans","labelFontSize":40,"labelColor":"#262626","labelPadding":12,
 "titleFont":"Liberation Sans","titleFontSize":53,"titleFontWeight":"normal","titleColor":"#262626","titlePadding":5}}
},
"layer": [
{"data":{"name":"grid"},
 "mark":{"type":"square","size":332,"opacity":1,"filled":true,"clip":true},
 "encoding":{"color":{"field":"v","type":"quantitative",
  "scale":{"type":"linear","domain":[71,73.23,77.69,82.16,86.62,88.85],"range":["#000080","#0000ff","#00ffff","#ffff00","#ff0000","#800000"],"interpolate":"rgb","clamp":true},
  "legend":{"title":"Core size in radius [Km]","orient":"right","offset":33,"padding":5,"values":[72,74,76,78,80,82,84,86,88],
   "gradientLength":713,"gradientThickness":32,"gradientStrokeColor":"#262626","gradientStrokeWidth":1,
   "labelFont":"Liberation Sans","labelFontSize":36,"labelColor":"#262626","labelOffset":14,"labelOverlap":false,
   "titleOrient":"right","titleFont":"Liberation Sans","titleFontSize":41,"titleFontWeight":"normal","titleColor":"#262626","titlePadding":10,"titleAnchor":"middle","titleLimit":1000,
   "encode":{"title":{"update":{"angle":{"value":-90}}}}}}}},
{"data":{"name":"lines"},
 "mark":{"type":"line","color":"black","strokeWidth":3,"strokeDash":[10,6],"clip":true},
 "encoding":{"detail":{"field":"name","type":"nominal"}}},
{"data":{"name":"erosLabel"},
 "mark":{"type":"text","angle":62,"align":"center","baseline":"middle","font":"Open Sans","fontSize":25,"color":"black"},
 "encoding":{"text":{"field":"label","type":"nominal"}}},
{"data":{"name":"panthiaLabel"},
 "mark":{"type":"text","angle":56.3,"align":"center","baseline":"middle","font":"Open Sans","fontSize":25,"color":"black"},
 "encoding":{"text":{"field":"label","type":"nominal"}}}
]
}
